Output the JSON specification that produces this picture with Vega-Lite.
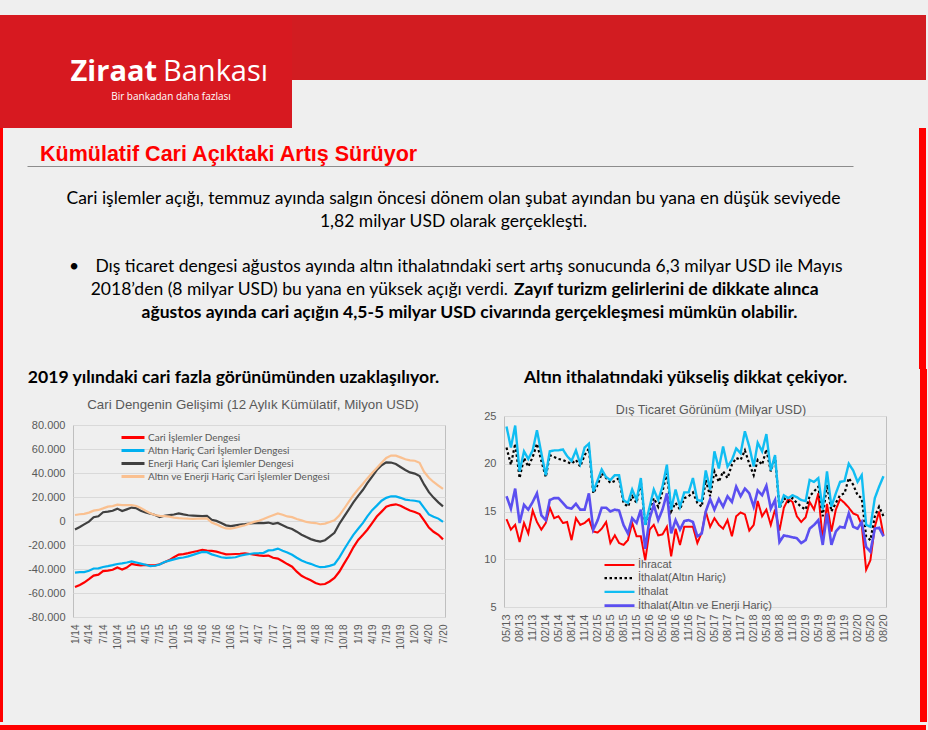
{
  "$schema": "https://vega.github.io/schema/vega-lite/v6.json",
  "background": "#efefef",
  "padding": {"left": 0, "top": 15, "right": 2, "bottom": 2},
  "spacing": 0,
  "resolve": {"scale": {"color": "independent", "strokeDash": "independent", "strokeWidth": "independent"}, "legend": {"color": "independent", "strokeDash": "independent", "strokeWidth": "independent"}},
  "config": {
    "view": {"stroke": null},
    "font": "Liberation Sans",
    "locale": {"number": {"decimal": ",", "thousands": ".", "grouping": [3], "currency": ["", ""], "minus": "-"}}
  },
  "datasets": {
    "cari": [
      {"d":"2014-01-01","cid":-55000,"ah":-43000,"eh":-7000,"aeh":5000},
      {"d":"2014-02-01","cid":-53300,"ah":-42600,"eh":-5000,"aeh":5600},
      {"d":"2014-03-01","cid":-51300,"ah":-42600,"eh":-2800,"aeh":6000},
      {"d":"2014-04-01","cid":-48500,"ah":-41500,"eh":-500,"aeh":7000},
      {"d":"2014-05-01","cid":-45500,"ah":-39600,"eh":3100,"aeh":8600},
      {"d":"2014-06-01","cid":-44700,"ah":-39500,"eh":3900,"aeh":9200},
      {"d":"2014-07-01","cid":-41800,"ah":-38300,"eh":7300,"aeh":10500},
      {"d":"2014-08-01","cid":-41300,"ah":-37600,"eh":7800,"aeh":12000},
      {"d":"2014-09-01","cid":-40600,"ah":-36800,"eh":8500,"aeh":12400},
      {"d":"2014-10-01","cid":-38800,"ah":-35800,"eh":10300,"aeh":13600},
      {"d":"2014-11-01","cid":-40400,"ah":-35300,"eh":8300,"aeh":13200},
      {"d":"2014-12-01","cid":-38800,"ah":-34600,"eh":9700,"aeh":13300},
      {"d":"2015-01-01","cid":-35800,"ah":-33600,"eh":11200,"aeh":13300},
      {"d":"2015-02-01","cid":-36500,"ah":-34600,"eh":10600,"aeh":12500},
      {"d":"2015-03-01","cid":-37000,"ah":-35500,"eh":8500,"aeh":10800},
      {"d":"2015-04-01","cid":-36600,"ah":-36500,"eh":7200,"aeh":8500},
      {"d":"2015-05-01","cid":-37000,"ah":-37600,"eh":6200,"aeh":6500},
      {"d":"2015-06-01","cid":-37000,"ah":-37300,"eh":5000,"aeh":5000},
      {"d":"2015-07-01","cid":-36000,"ah":-36300,"eh":3200,"aeh":4300},
      {"d":"2015-08-01","cid":-34300,"ah":-34200,"eh":4400,"aeh":4000},
      {"d":"2015-09-01","cid":-32600,"ah":-33000,"eh":4900,"aeh":3600},
      {"d":"2015-10-01","cid":-30200,"ah":-32000,"eh":5400,"aeh":2800},
      {"d":"2015-11-01","cid":-28000,"ah":-31000,"eh":6400,"aeh":2400},
      {"d":"2015-12-01","cid":-27600,"ah":-30400,"eh":5500,"aeh":2100},
      {"d":"2016-01-01","cid":-26800,"ah":-29500,"eh":4800,"aeh":1900},
      {"d":"2016-02-01","cid":-25800,"ah":-28200,"eh":4500,"aeh":1800},
      {"d":"2016-03-01","cid":-25000,"ah":-27000,"eh":4300,"aeh":1900},
      {"d":"2016-04-01","cid":-24000,"ah":-25800,"eh":4000,"aeh":2000},
      {"d":"2016-05-01","cid":-24600,"ah":-26000,"eh":4200,"aeh":2200},
      {"d":"2016-06-01","cid":-24900,"ah":-27800,"eh":1000,"aeh":-1300},
      {"d":"2016-07-01","cid":-25500,"ah":-29000,"eh":100,"aeh":-2800},
      {"d":"2016-08-01","cid":-26700,"ah":-30200,"eh":-1600,"aeh":-4800},
      {"d":"2016-09-01","cid":-27800,"ah":-30800,"eh":-3600,"aeh":-6200},
      {"d":"2016-10-01","cid":-27700,"ah":-30600,"eh":-4200,"aeh":-6400},
      {"d":"2016-11-01","cid":-27500,"ah":-30200,"eh":-3600,"aeh":-5600},
      {"d":"2016-12-01","cid":-27300,"ah":-29000,"eh":-3000,"aeh":-4500},
      {"d":"2017-01-01","cid":-26900,"ah":-28000,"eh":-2600,"aeh":-3500},
      {"d":"2017-02-01","cid":-27500,"ah":-27500,"eh":-2100,"aeh":-2000},
      {"d":"2017-03-01","cid":-28000,"ah":-26900,"eh":-1800,"aeh":-700},
      {"d":"2017-04-01","cid":-28600,"ah":-26800,"eh":-1600,"aeh":200},
      {"d":"2017-05-01","cid":-29000,"ah":-26500,"eh":-1800,"aeh":1600},
      {"d":"2017-06-01","cid":-28800,"ah":-24500,"eh":-1300,"aeh":3400},
      {"d":"2017-07-01","cid":-30600,"ah":-24200,"eh":-2400,"aeh":4800},
      {"d":"2017-08-01","cid":-31300,"ah":-23000,"eh":-1600,"aeh":6300},
      {"d":"2017-09-01","cid":-33600,"ah":-24800,"eh":-3500,"aeh":5200},
      {"d":"2017-10-01","cid":-35900,"ah":-26300,"eh":-5400,"aeh":3800},
      {"d":"2017-11-01","cid":-38100,"ah":-28200,"eh":-6700,"aeh":3200},
      {"d":"2017-12-01","cid":-42200,"ah":-30600,"eh":-8900,"aeh":1700},
      {"d":"2018-01-01","cid":-45600,"ah":-32900,"eh":-11400,"aeh":500},
      {"d":"2018-02-01","cid":-47800,"ah":-34600,"eh":-13400,"aeh":-800},
      {"d":"2018-03-01","cid":-49400,"ah":-35700,"eh":-15100,"aeh":-1300},
      {"d":"2018-04-01","cid":-51600,"ah":-37300,"eh":-16300,"aeh":-1700},
      {"d":"2018-05-01","cid":-52900,"ah":-38500,"eh":-17100,"aeh":-2700},
      {"d":"2018-06-01","cid":-52500,"ah":-38200,"eh":-16000,"aeh":-2200},
      {"d":"2018-07-01","cid":-50400,"ah":-37400,"eh":-13100,"aeh":-800},
      {"d":"2018-08-01","cid":-47500,"ah":-36000,"eh":-9900,"aeh":500},
      {"d":"2018-09-01","cid":-42300,"ah":-30500,"eh":-2500,"aeh":4500},
      {"d":"2018-10-01","cid":-35700,"ah":-24000,"eh":3500,"aeh":10000},
      {"d":"2018-11-01","cid":-29200,"ah":-17500,"eh":9500,"aeh":16000},
      {"d":"2018-12-01","cid":-21900,"ah":-11500,"eh":15500,"aeh":21500},
      {"d":"2019-01-01","cid":-15800,"ah":-6500,"eh":21000,"aeh":26500},
      {"d":"2019-02-01","cid":-11500,"ah":-1600,"eh":26000,"aeh":31000},
      {"d":"2019-03-01","cid":-7300,"ah":3800,"eh":31500,"aeh":35500},
      {"d":"2019-04-01","cid":-1700,"ah":9000,"eh":37000,"aeh":40000},
      {"d":"2019-05-01","cid":3700,"ah":12800,"eh":42500,"aeh":44200},
      {"d":"2019-06-01","cid":7800,"ah":16900,"eh":46500,"aeh":48500},
      {"d":"2019-07-01","cid":11900,"ah":19300,"eh":48900,"aeh":52500},
      {"d":"2019-08-01","cid":13300,"ah":20600,"eh":48700,"aeh":54500},
      {"d":"2019-09-01","cid":13900,"ah":20500,"eh":47500,"aeh":54500},
      {"d":"2019-10-01","cid":12700,"ah":19300,"eh":45000,"aeh":53000},
      {"d":"2019-11-01","cid":10600,"ah":17800,"eh":42500,"aeh":51500},
      {"d":"2019-12-01","cid":8700,"ah":17300,"eh":40500,"aeh":50500},
      {"d":"2020-01-01","cid":7500,"ah":16900,"eh":39500,"aeh":50200},
      {"d":"2020-02-01","cid":5800,"ah":16000,"eh":37500,"aeh":48500},
      {"d":"2020-03-01","cid":500,"ah":11000,"eh":30500,"aeh":41000},
      {"d":"2020-04-01","cid":-5500,"ah":5500,"eh":24000,"aeh":36000},
      {"d":"2020-05-01","cid":-9000,"ah":3600,"eh":19500,"aeh":32500},
      {"d":"2020-06-01","cid":-11500,"ah":2000,"eh":15500,"aeh":29500},
      {"d":"2020-07-01","cid":-15300,"ah":-800,"eh":12200,"aeh":26700}
    ],
    "dis": [
      {"d":"2013-05-01","ihr":14.2,"itah":21.7,"ith":23.9,"itaeh":16.6},
      {"d":"2013-06-01","ihr":13.1,"itah":19.9,"ith":21.7,"itaeh":15.3},
      {"d":"2013-07-01","ihr":13.6,"itah":22.1,"ith":24.0,"itaeh":17.4},
      {"d":"2013-08-01","ihr":11.8,"itah":18.5,"ith":19.2,"itaeh":13.8},
      {"d":"2013-09-01","ihr":13.8,"itah":20.6,"ith":21.3,"itaeh":15.7},
      {"d":"2013-10-01","ihr":12.7,"itah":19.7,"ith":20.5,"itaeh":15.2},
      {"d":"2013-11-01","ihr":15.1,"itah":20.7,"ith":21.4,"itaeh":16.0},
      {"d":"2013-12-01","ihr":13.9,"itah":22.1,"ith":23.5,"itaeh":16.9},
      {"d":"2014-01-01","ihr":13.1,"itah":20.3,"ith":21.1,"itaeh":14.6},
      {"d":"2014-02-01","ihr":13.8,"itah":18.6,"ith":18.8,"itaeh":14.1},
      {"d":"2014-03-01","ihr":15.4,"itah":20.9,"ith":21.3,"itaeh":16.2},
      {"d":"2014-04-01","ihr":14.3,"itah":20.7,"ith":21.4,"itaeh":16.4},
      {"d":"2014-05-01","ihr":14.5,"itah":20.5,"ith":21.4,"itaeh":16.4},
      {"d":"2014-06-01","ihr":13.8,"itah":20.4,"ith":21.5,"itaeh":15.9},
      {"d":"2014-07-01","ihr":13.9,"itah":20.2,"ith":20.8,"itaeh":15.4},
      {"d":"2014-08-01","ihr":12.0,"itah":20.0,"ith":20.3,"itaeh":15.3},
      {"d":"2014-09-01","ihr":14.3,"itah":20.4,"ith":21.4,"itaeh":15.8},
      {"d":"2014-10-01","ihr":13.6,"itah":19.7,"ith":20.0,"itaeh":15.2},
      {"d":"2014-11-01","ihr":13.8,"itah":20.9,"ith":21.7,"itaeh":15.2},
      {"d":"2014-12-01","ihr":14.2,"itah":21.6,"ith":22.1,"itaeh":16.9},
      {"d":"2015-01-01","ihr":12.9,"itah":16.9,"ith":17.1,"itaeh":13.1},
      {"d":"2015-02-01","ihr":12.8,"itah":17.8,"ith":18.3,"itaeh":14.1},
      {"d":"2015-03-01","ihr":13.2,"itah":19.0,"ith":19.4,"itaeh":15.4},
      {"d":"2015-04-01","ihr":13.9,"itah":18.5,"ith":18.6,"itaeh":15.4},
      {"d":"2015-05-01","ihr":11.7,"itah":18.0,"ith":18.3,"itaeh":15.0},
      {"d":"2015-06-01","ihr":12.5,"itah":18.2,"ith":18.8,"itaeh":15.2},
      {"d":"2015-07-01","ihr":11.7,"itah":18.5,"ith":18.8,"itaeh":15.1},
      {"d":"2015-08-01","ihr":11.5,"itah":15.9,"ith":16.2,"itaeh":13.6},
      {"d":"2015-09-01","ihr":12.0,"itah":15.5,"ith":15.9,"itaeh":12.7},
      {"d":"2015-10-01","ihr":13.8,"itah":16.6,"ith":17.3,"itaeh":14.3},
      {"d":"2015-11-01","ihr":12.4,"itah":15.9,"ith":16.2,"itaeh":13.8},
      {"d":"2015-12-01","ihr":12.4,"itah":18.1,"ith":18.5,"itaeh":15.2},
      {"d":"2016-01-01","ihr":9.9,"itah":13.5,"ith":13.6,"itaeh":11.1},
      {"d":"2016-02-01","ihr":13.1,"itah":15.2,"ith":15.5,"itaeh":14.3},
      {"d":"2016-03-01","ihr":13.6,"itah":16.4,"ith":17.3,"itaeh":15.7},
      {"d":"2016-04-01","ihr":12.5,"itah":15.5,"ith":16.2,"itaeh":14.1},
      {"d":"2016-05-01","ihr":12.6,"itah":17.1,"ith":17.6,"itaeh":15.2},
      {"d":"2016-06-01","ihr":13.4,"itah":19.0,"ith":19.9,"itaeh":16.9},
      {"d":"2016-07-01","ihr":10.3,"itah":15.0,"ith":15.2,"itaeh":12.7},
      {"d":"2016-08-01","ihr":13.2,"itah":15.9,"ith":17.3,"itaeh":14.1},
      {"d":"2016-09-01","ihr":11.5,"itah":15.2,"ith":15.5,"itaeh":13.1},
      {"d":"2016-10-01","ihr":13.4,"itah":16.4,"ith":17.0,"itaeh":14.0},
      {"d":"2016-11-01","ihr":13.4,"itah":16.6,"ith":17.0,"itaeh":14.1},
      {"d":"2016-12-01","ihr":13.4,"itah":17.0,"ith":18.5,"itaeh":13.9},
      {"d":"2017-01-01","ihr":11.7,"itah":15.9,"ith":16.2,"itaeh":12.4},
      {"d":"2017-02-01","ihr":12.8,"itah":15.5,"ith":16.1,"itaeh":12.7},
      {"d":"2017-03-01","ihr":15.0,"itah":18.3,"ith":19.3,"itaeh":15.0},
      {"d":"2017-04-01","ihr":13.4,"itah":16.6,"ith":17.3,"itaeh":16.3},
      {"d":"2017-05-01","ihr":14.3,"itah":19.2,"ith":21.3,"itaeh":15.2},
      {"d":"2017-06-01","ihr":13.6,"itah":18.1,"ith":19.5,"itaeh":16.3},
      {"d":"2017-07-01","ihr":13.2,"itah":19.2,"ith":21.8,"itaeh":15.5},
      {"d":"2017-08-01","ihr":14.1,"itah":18.5,"ith":19.7,"itaeh":16.6},
      {"d":"2017-09-01","ihr":12.4,"itah":19.9,"ith":20.4,"itaeh":16.0},
      {"d":"2017-10-01","ihr":14.5,"itah":20.6,"ith":21.6,"itaeh":17.6},
      {"d":"2017-11-01","ihr":14.9,"itah":20.4,"ith":21.1,"itaeh":16.6},
      {"d":"2017-12-01","ihr":14.7,"itah":21.4,"ith":23.4,"itaeh":17.4},
      {"d":"2018-01-01","ihr":13.0,"itah":20.0,"ith":21.8,"itaeh":16.9},
      {"d":"2018-02-01","ihr":13.6,"itah":18.8,"ith":19.7,"itaeh":15.5},
      {"d":"2018-03-01","ihr":16.1,"itah":20.4,"ith":22.2,"itaeh":17.2},
      {"d":"2018-04-01","ihr":14.5,"itah":19.9,"ith":21.3,"itaeh":16.7},
      {"d":"2018-05-01","ihr":15.2,"itah":21.5,"ith":23.1,"itaeh":17.7},
      {"d":"2018-06-01","ihr":13.6,"itah":19.2,"ith":19.3,"itaeh":15.3},
      {"d":"2018-07-01","ihr":15.2,"itah":20.7,"ith":20.9,"itaeh":16.2},
      {"d":"2018-08-01","ihr":13.0,"itah":15.3,"ith":15.4,"itaeh":11.8},
      {"d":"2018-09-01","ihr":15.4,"itah":16.4,"ith":16.7,"itaeh":12.5},
      {"d":"2018-10-01","ihr":16.3,"itah":16.0,"ith":16.4,"itaeh":12.4},
      {"d":"2018-11-01","ihr":16.0,"itah":16.4,"ith":16.7,"itaeh":12.3},
      {"d":"2018-12-01","ihr":14.5,"itah":15.9,"ith":16.5,"itaeh":12.2},
      {"d":"2019-01-01","ihr":13.9,"itah":15.5,"ith":16.2,"itaeh":11.7},
      {"d":"2019-02-01","ihr":14.4,"itah":15.2,"ith":16.1,"itaeh":12.0},
      {"d":"2019-03-01","ihr":16.0,"itah":16.6,"ith":18.3,"itaeh":13.2},
      {"d":"2019-04-01","ihr":15.2,"itah":17.1,"ith":18.1,"itaeh":13.6},
      {"d":"2019-05-01","ihr":16.9,"itah":17.6,"ith":18.5,"itaeh":14.1},
      {"d":"2019-06-01","ihr":12.0,"itah":14.5,"ith":15.2,"itaeh":11.5},
      {"d":"2019-07-01","ihr":15.8,"itah":17.8,"ith":19.2,"itaeh":14.8},
      {"d":"2019-08-01","ihr":12.9,"itah":15.0,"ith":15.5,"itaeh":11.5},
      {"d":"2019-09-01","ihr":15.2,"itah":15.9,"ith":16.9,"itaeh":12.9},
      {"d":"2019-10-01","ihr":16.3,"itah":16.7,"ith":18.1,"itaeh":13.4},
      {"d":"2019-11-01","ihr":15.9,"itah":16.9,"ith":18.2,"itaeh":13.3},
      {"d":"2019-12-01","ihr":15.4,"itah":18.5,"ith":20.0,"itaeh":14.8},
      {"d":"2020-01-01","ihr":14.8,"itah":17.8,"ith":19.3,"itaeh":13.4},
      {"d":"2020-02-01","ihr":14.6,"itah":16.7,"ith":18.1,"itaeh":13.2},
      {"d":"2020-03-01","ihr":13.6,"itah":16.4,"ith":18.8,"itaeh":13.9},
      {"d":"2020-04-01","ihr":8.9,"itah":12.4,"ith":13.6,"itaeh":11.3},
      {"d":"2020-05-01","ihr":9.9,"itah":12.0,"ith":13.4,"itaeh":10.8},
      {"d":"2020-06-01","ihr":13.4,"itah":14.5,"ith":16.4,"itaeh":13.2},
      {"d":"2020-07-01","ihr":15.0,"itah":15.5,"ith":17.6,"itaeh":13.3},
      {"d":"2020-08-01","ihr":12.5,"itah":14.5,"ith":18.7,"itaeh":12.4}
    ]
  },
  "vconcat": [
    {
      "spacing": 0,
      "hconcat": [
        {
          "width": 292, "height": 113,
          "view": {"fill": "#d71920", "stroke": null},
          "layer": [
            {"data": {"values": [{"t": "Ziraat"}]}, "mark": {"type": "text", "align": "right", "baseline": "middle", "dx": 11, "dy": 0, "font": "Open Sans", "fontWeight": "bold", "fontSize": 29, "color": "#ffffff"}, "encoding": {"text": {"field": "t"}}},
            {"data": {"values": [{"t": "Bankası"}]}, "mark": {"type": "text", "align": "left", "baseline": "middle", "dx": 17, "dy": 0, "font": "Open Sans", "fontSize": 29, "color": "#ffffff"}, "encoding": {"text": {"field": "t"}}},
            {"data": {"values": [{"t": "Bir bankadan daha fazlası"}]}, "mark": {"type": "text", "align": "center", "baseline": "middle", "dx": 25, "dy": 25, "font": "Open Sans", "fontSize": 10, "color": "#ffffff"}, "encoding": {"text": {"field": "t"}}}
          ]
        },
        {
          "width": 634, "height": 65,
          "view": {"fill": "#d21c21", "stroke": null},
          "data": {"values": [{}]},
          "mark": {"type": "text", "text": ""}
        }
      ]
    },
    {
      "spacing": 24,
      "hconcat": [
        {"width": 3, "height": 241, "view": {"fill": "#ff0000", "stroke": null}, "data": {"values": [{}]}, "mark": {"type": "text", "text": ""}},
        {
          "spacing": 22,
          "vconcat": [
            {
              "width": 826, "height": 38,
              "data": {"values": [{"t": "Kümülatif Cari Açıktaki Artış Sürüyor"}]},
              "mark": {"type": "text", "align": "left", "baseline": "middle", "dx": 13, "dy": 8, "font": "Liberation Sans", "fontSize": 21.5, "fontWeight": "bold", "color": "#ff0000"},
              "encoding": {
                "text": {"field": "t"},
                "x": {"datum": 0, "type": "quantitative", "scale": {"domain": [0, 1]}, "axis": {"title": null, "labels": false, "ticks": false, "grid": false, "domainColor": "#8c8c8c", "domainWidth": 1}}
              }
            },
            {
              "width": 868, "height": 136,
              "encoding": {
                "y": {"field": "line", "type": "quantitative", "scale": {"domain": [0.5, 6.5], "reverse": true}, "axis": null},
                "text": {"field": "t"}
              },
              "layer": [
                {"data": {"values": [{"line": 1, "t": "Cari işlemler açığı, temmuz ayında salgın öncesi dönem olan şubat ayından bu yana en düşük seviyede"}, {"line": 2, "t": "1,82 milyar USD olarak gerçekleşti."}]},
                 "mark": {"type": "text", "font": "Lato", "fontSize": 17.5, "color": "#000000", "baseline": "middle", "align": "center", "dx": -7.5}},
                {"data": {"values": [{"line": 4, "t": "Dış ticaret dengesi ağustos ayında altın ithalatındaki sert artış sonucunda 6,3 milyar USD ile Mayıs"}]},
                 "mark": {"type": "text", "font": "Lato", "fontSize": 17.5, "color": "#000000", "baseline": "middle", "align": "center", "dx": 8}},
                {"data": {"values": [{"line": 4, "t": "•"}]},
                 "mark": {"type": "text", "font": "Lato", "fontSize": 17.5, "color": "#000000", "baseline": "middle", "align": "center", "dx": -387}},
                {"data": {"values": [{"line": 5, "t": "2018’den (8 milyar USD) bu yana en yüksek açığı verdi."}]},
                 "mark": {"type": "text", "font": "Lato", "fontSize": 17.5, "color": "#000000", "baseline": "middle", "align": "right", "dx": 47}},
                {"data": {"values": [{"line": 5, "t": "Zayıf turizm gelirlerini de dikkate alınca"}]},
                 "mark": {"type": "text", "font": "Lato", "fontSize": 17.5, "fontWeight": "bold", "color": "#000000", "baseline": "middle", "align": "left", "dx": 53}},
                {"data": {"values": [{"line": 6, "t": "ağustos ayında cari açığın 4,5-5 milyar USD civarında gerçekleşmesi mümkün olabilir."}]},
                 "mark": {"type": "text", "font": "Lato", "fontSize": 17.5, "fontWeight": "bold", "color": "#000000", "baseline": "middle", "align": "center", "dx": 8.5}}
              ]
            }
          ]
        },
        {"width": 7, "height": 241, "view": {"fill": "#ff0000", "stroke": null}, "data": {"values": [{}]}, "mark": {"type": "text", "text": ""}}
      ]
    },
    {
      "spacing": 30,
      "resolve": {"scale": {"color": "independent", "strokeDash": "independent", "strokeWidth": "independent"}, "legend": {"color": "independent", "strokeDash": "independent", "strokeWidth": "independent"}},
      "hconcat": [
        {
          "spacing": 24,
          "resolve": {"scale": {"color": "independent", "strokeDash": "independent", "strokeWidth": "independent"}, "legend": {"color": "independent", "strokeDash": "independent", "strokeWidth": "independent"}},
          "hconcat": [
            {"width": 3, "height": 353, "view": {"fill": "#ff0000", "stroke": null}, "data": {"values": [{}]}, "mark": {"type": "text", "text": ""}},
            {
              "spacing": 34,
              "resolve": {"scale": {"color": "independent", "strokeDash": "independent", "strokeWidth": "independent"}, "legend": {"color": "independent", "strokeDash": "independent", "strokeWidth": "independent"}},
              "hconcat": [
                {
                  "spacing": 10,
                  "bounds": "flush",
                  "resolve": {"scale": {"color": "independent", "strokeDash": "independent", "strokeWidth": "independent"}, "legend": {"color": "independent", "strokeDash": "independent", "strokeWidth": "independent"}},
                  "vconcat": [
                    {
                      "width": 372, "height": 46,
                      "layer": [
                        {"data": {"values": [{"t": "2019 yılındaki cari fazla görünümünden uzaklaşılıyor."}]},
                         "mark": {"type": "text", "font": "Lato", "fontWeight": "bold", "fontSize": 17.6, "color": "#000000", "baseline": "middle", "align": "center", "dx": -25.5, "dy": -14},
                         "encoding": {"text": {"field": "t"}}},
                        {"data": {"values": [{"t": "Cari Dengenin Gelişimi (12 Aylık Kümülatif, Milyon USD)"}]},
                         "mark": {"type": "text", "font": "Liberation Sans", "fontSize": 13.3, "color": "#595959", "baseline": "middle", "align": "center", "dx": -6, "dy": 13},
                         "encoding": {"text": {"field": "t"}}}
                      ]
                    },
                    {
                      "width": 372, "height": 192,
                      "view": {"stroke": "#bfbfbf", "strokeWidth": 1},
                      "data": {"name": "cari"},
                      "transform": [{"fold": ["cid", "ah", "eh", "aeh"], "as": ["seri", "deger"]}],
                      "mark": {"type": "line", "strokeWidth": 2.2},
                      "encoding": {
                        "x": {"field": "d", "type": "temporal", "scale": {"type": "utc", "nice": false, "padding": 2},
                              "axis": {"title": null, "tickCount": {"interval": "month", "step": 1}, "labelExpr": "utcmonth(datum.value) % 3 == 0 ? utcFormat(datum.value, '%-m/%y') : ''", "labelAngle": 270, "labelFont": "Liberation Sans", "labelFontSize": 10, "labelColor": "#595959", "ticks": false, "domain": false, "grid": false, "labelPadding": 7, "labelOverlap": false, "labelFlush": false}},
                        "y": {"field": "deger", "type": "quantitative", "scale": {"domain": [-80000, 80000], "nice": false},
                              "axis": {"title": null, "values": [-80000, -60000, -40000, -20000, 0, 20000, 40000, 60000, 80000], "format": ",.0f", "labelFont": "Liberation Sans", "labelFontSize": 11, "labelColor": "#595959", "ticks": false, "domain": false, "labelPadding": 8, "gridColor": "#d9d9d9"}},
                        "color": {"field": "seri", "type": "nominal",
                                  "scale": {"domain": ["cid", "ah", "eh", "aeh"], "range": ["#ff0000", "#00b0f0", "#404040", "#fac090"]},
                                  "legend": {"orient": "none", "legendX": 53, "legendY": 5.5, "title": null, "labelExpr": "datum.label == 'cid' ? 'Cari İşlemler Dengesi' : datum.label == 'ah' ? 'Altın Hariç Cari İşlemler Dengesi' : datum.label == 'eh' ? 'Enerji Hariç Cari İşlemler Dengesi' : 'Altın ve Enerji Hariç Cari İşlemler Dengesi'", "labelFont": "Lato", "labelFontSize": 10, "labelColor": "#595959", "labelLimit": 400, "symbolType": "M-2.09,0H2.09", "symbolSize": 121, "symbolStrokeWidth": 3, "rowPadding": 0, "labelOffset": 8, "padding": 0}}
                      }
                    }
                  ]
                },
                {
                  "spacing": 1,
                  "bounds": "flush",
                  "resolve": {"scale": {"color": "independent", "strokeDash": "independent", "strokeWidth": "independent"}, "legend": {"color": "independent", "strokeDash": "independent", "strokeWidth": "independent"}},
                  "vconcat": [
                    {
                      "width": 382, "height": 46,
                      "layer": [
                        {"data": {"values": [{"t": "Altın ithalatındaki yükseliş dikkat çekiyor."}]},
                         "mark": {"type": "text", "font": "Lato", "fontWeight": "bold", "fontSize": 17.6, "color": "#000000", "baseline": "middle", "align": "center", "dx": -9.5, "dy": -14},
                         "encoding": {"text": {"field": "t"}}},
                        {"data": {"values": [{"t": "Dış Ticaret Görünüm (Milyar USD)"}]},
                         "mark": {"type": "text", "font": "Liberation Sans", "fontSize": 12.5, "color": "#595959", "baseline": "middle", "align": "center", "dx": 16, "dy": 18},
                         "encoding": {"text": {"field": "t"}}}
                      ]
                    },
                    {
                      "width": 382, "height": 191,
                      "view": {"stroke": "#bfbfbf", "strokeWidth": 1},
                      "data": {"name": "dis"},
                      "transform": [{"fold": ["ihr", "itah", "ith", "itaeh"], "as": ["seri", "deger"]}],
                      "mark": {"type": "line"},
                      "encoding": {
                        "x": {"field": "d", "type": "temporal", "scale": {"type": "utc", "nice": false, "padding": 2.5},
                              "axis": {"title": null, "tickCount": {"interval": "month", "step": 1}, "labelExpr": "utcmonth(datum.value) % 3 == 1 ? utcFormat(datum.value, '%m/%y') : ''", "labelAngle": 270, "labelFont": "Liberation Sans", "labelFontSize": 11, "labelColor": "#595959", "ticks": false, "domain": false, "grid": false, "labelPadding": 7, "labelOverlap": false, "labelFlush": false}},
                        "y": {"field": "deger", "type": "quantitative", "scale": {"domain": [5, 25], "nice": false, "zero": false},
                              "axis": {"title": null, "values": [5, 10, 15, 20, 25], "labelFont": "Liberation Sans", "labelFontSize": 11, "labelColor": "#595959", "ticks": false, "domain": false, "labelPadding": 8, "gridColor": "#d9d9d9"}},
                        "color": {"field": "seri", "type": "nominal",
                                  "scale": {"domain": ["ihr", "itah", "ith", "itaeh"], "range": ["#ff0000", "#000000", "#10bdf2", "#5b4ff0"]},
                                  "legend": {"orient": "none", "legendX": 108, "legendY": 142, "title": null, "labelExpr": "datum.label == 'ihr' ? 'İhracat' : datum.label == 'itah' ? 'İthalat(Altın Hariç)' : datum.label == 'ith' ? 'İthalat' : 'İthalat(Altın ve Enerji Hariç)'", "labelFont": "Liberation Sans", "labelFontSize": 11, "labelColor": "#595959", "labelLimit": 400, "symbolType": "M-2.5,0H2.5", "symbolSize": 144, "rowPadding": 0.7, "labelOffset": 11, "padding": 0}},
                        "strokeDash": {"field": "seri", "type": "nominal", "scale": {"domain": ["ihr", "itah", "ith", "itaeh"], "range": [[1, 0], [2.5, 2.5], [1, 0], [1, 0]]}},
                        "strokeWidth": {"field": "seri", "type": "nominal", "scale": {"domain": ["ihr", "itah", "ith", "itaeh"], "range": [2, 2.6, 2, 2]}}
                      }
                    }
                  ]
                }
              ]
            }
          ]
        },
        {"width": 7, "height": 353, "view": {"fill": "#ff0000", "stroke": null}, "data": {"values": [{}]}, "mark": {"type": "text", "text": ""}}
      ]
    },
    {"width": 926, "height": 6, "view": {"fill": "#ff0000", "stroke": null}, "data": {"values": [{}]}, "mark": {"type": "text", "text": ""}}
  ]
}
